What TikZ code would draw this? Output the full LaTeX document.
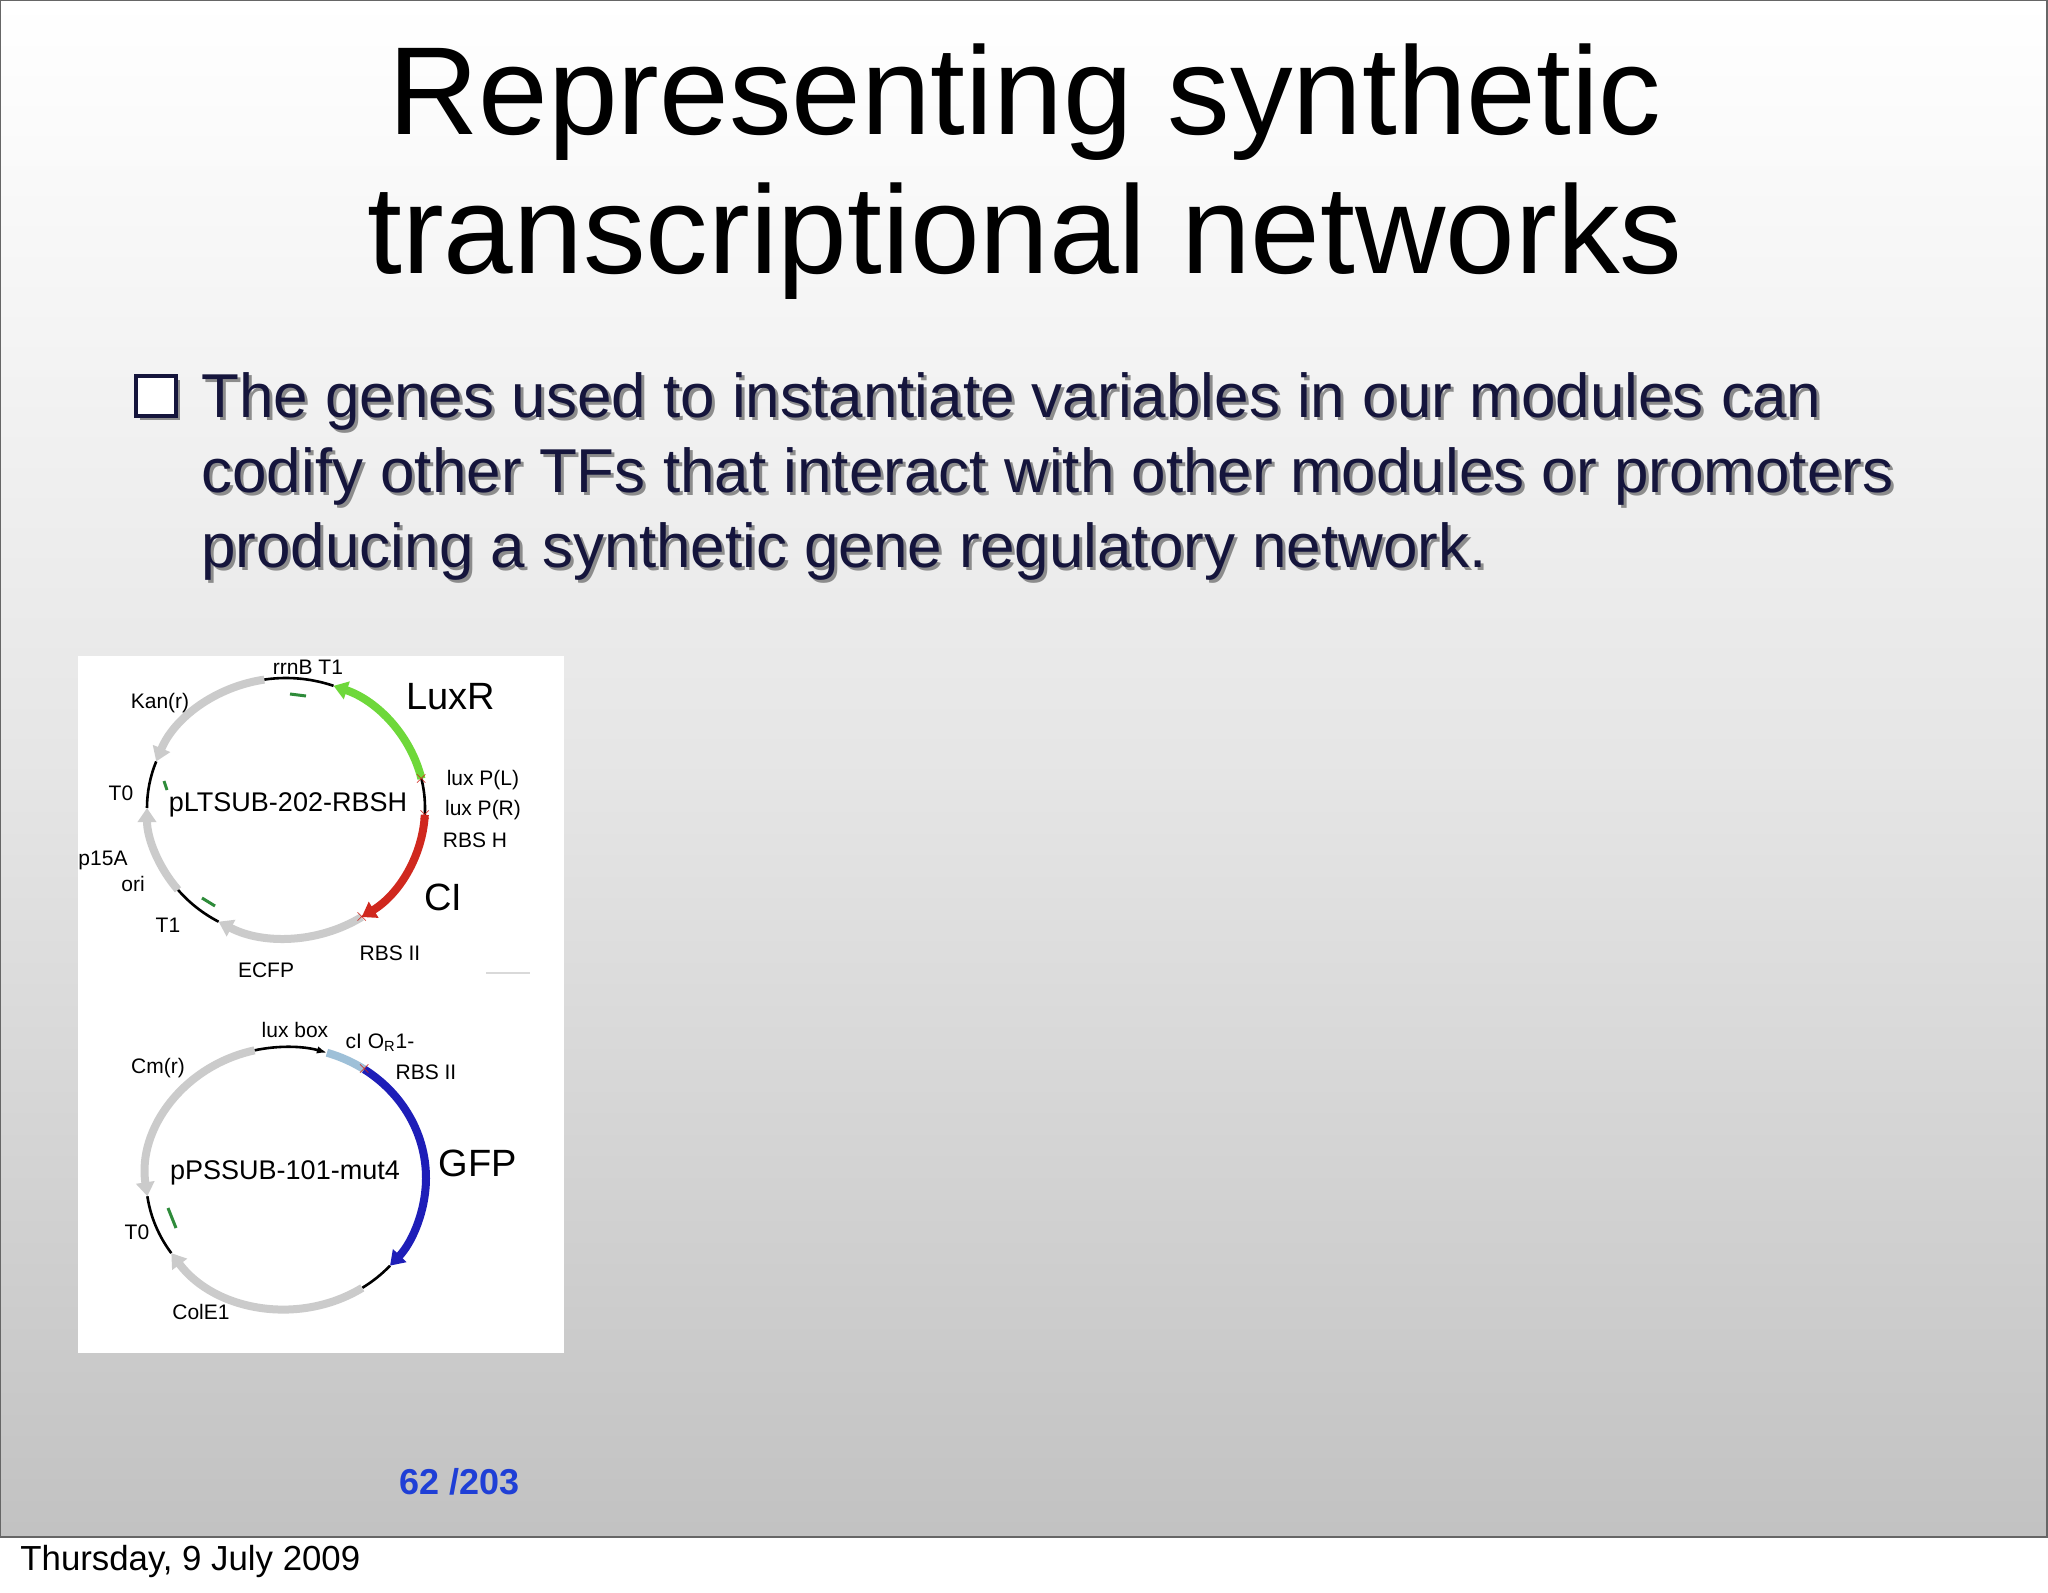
\documentclass[tikz,border=0pt]{standalone}
\usepackage{fontspec}
\setmainfont{Liberation Sans}
\usetikzlibrary{arrows.meta,calc}
\definecolor{navy}{HTML}{15153C}
\definecolor{pgray}{HTML}{CBCBCB}
\definecolor{pgreen}{HTML}{6ED83A}
\definecolor{pred}{HTML}{D0281E}
\definecolor{pblue}{HTML}{1E1EB8}
\definecolor{plblue}{HTML}{9EC0D8}
\definecolor{dgreen}{HTML}{2E8B3A}
\definecolor{pnum}{HTML}{1F3FD6}
\tikzset{
 seg/.style={line width=4pt},
 thin seg/.style={line width=1.3pt,black},
 tip/.style={-{Triangle[length=7pt,width=9pt]}},
 lbl/.style={font=\fontsize{10.5}{12}\selectfont,inner sep=0pt},
 big/.style={font=\fontsize{19}{22}\selectfont,inner sep=0pt},
 pname/.style={font=\fontsize{13.5}{16}\selectfont,inner sep=0pt},
 bul/.style={anchor=base west,inner sep=0pt,font=\fontsize{31}{37}\selectfont},
}
\newcommand{\parc}[6]{% center, rx, ry, a1, a2, style
 \draw[#6] ($(#1)+(#4:#2 and #3)$) arc[start angle=#4,end angle=#5,x radius=#2*0.5pt,y radius=#3*0.5pt];}
\begin{document}
\begin{tikzpicture}[x=0.5pt,y=0.5pt]
\useasboundingbox (0,0) rectangle (2048,-1593);
\fill[white] (0,0) rectangle (2048,-1593);
\shade[top color=white,bottom color=black!24,middle color=black!10] (0,0) rectangle (2047,-1537);
\draw[black!60,line width=1pt] (0,0) rectangle (2047,-1537);
% title
\node[font=\fontsize{62.6}{69.5}\selectfont,inner sep=0pt,anchor=base] (t1) at (1025,-135) {Representing synthetic};
\node[font=\fontsize{62.6}{69.5}\selectfont,inner sep=0pt,anchor=base] (t2) at (1025,-274) {transcriptional networks};
% bullet
\node[fill=black!45,minimum size=20pt,inner sep=0pt] (bxs) at (160,-400) {};
\node[draw=navy,line width=2.2pt,minimum size=20pt,inner sep=0pt,fill=white] (bx) at (156,-396) {};
\foreach \t/\yy [count=\i] in {{The genes used to instantiate variables in our modules can}/418,{codify other TFs that interact with other modules or promoters}/492,{producing a synthetic gene regulatory network.}/567}{
 \node[bul,text=black!45] (s\i) at (204,-\yy-3) {\t};
 \node[bul,text=navy] (l\i) at (201,-\yy) {\t};
}
% image box
\fill[white] (78,-656) rectangle (564,-1353);
% plasmid 1
\coordinate (c1) at (286,-808);
\parc{c1}{139}{130}{99}{70}{thin seg}
\parc{c1}{139}{130}{13}{70}{seg,pgreen,tip}
\parc{c1}{139}{130}{13}{-3}{thin seg}
\parc{c1}{139}{130}{-3}{-57}{seg,pred,tip}
\parc{c1}{139}{130}{-57}{-119}{seg,pgray,tip}
\parc{c1}{139}{130}{-119}{-141}{thin seg}
\parc{c1}{139}{130}{-141}{-180}{seg,pgray,tip}
\parc{c1}{139}{130}{180}{159}{thin seg}
\parc{c1}{139}{130}{99}{159}{seg,pgray,tip}
\foreach \a in {13,-3,-57}{\node[pred,font=\bfseries\small,inner sep=0pt] (x\a) at ($(c1)+(\a:139 and 130)$) {$\times$};}
\draw[dgreen,line width=1.5pt] (290,-694) -- (306,-696);
\draw[dgreen,line width=1.5pt] (164,-781) -- (167,-790);
\draw[dgreen,line width=1.5pt] (202,-898) -- (215,-906);
\node[lbl] (a1) at (308,-667) {rrnB T1};
\node[big] (a2) at (451,-697) {LuxR};
\node[lbl] (a3) at (160,-703) {Kan(r)};
\node[lbl] (a4) at (121,-793) {T0};
\node[pname] (a5) at (288,-805) {pLTSUB-202-RBSH};
\node[lbl] (a6) at (483,-780) {lux P(L)};
\node[lbl] (a7) at (483,-810) {lux P(R)};
\node[lbl] (a8) at (475,-840) {RBS H};
\node[lbl] (a9) at (103,-860) {p15A};
\node[lbl] (a10) at (133,-884) {ori};
\node[big] (a11) at (443,-897) {CI};
\node[lbl] (a12) at (168,-925) {T1};
\node[lbl] (a13) at (390,-953) {RBS II};
\node[lbl] (a14) at (266,-970) {ECFP};
\draw[black!15,line width=1pt] (486,-973) -- (530,-973);
% plasmid 2
\coordinate (c2) at (286,-1178);
\parc{c2}{140}{131}{103}{73}{thin seg,-{Latex[length=5pt]}}
\parc{c2}{140}{131}{73}{56}{seg,plblue}
\parc{c2}{140}{131}{56}{-42}{seg,pblue,tip}
\parc{c2}{140}{131}{-42}{-57}{thin seg}
\parc{c2}{140}{131}{-57}{-145}{seg,pgray,tip}
\parc{c2}{140}{131}{-145}{-172}{thin seg}
\parc{c2}{140}{131}{103}{188}{seg,pgray,tip}
\node[pred,font=\bfseries\small,inner sep=0pt] (y1) at ($(c2)+(56:140 and 131)$) {$\times$};
\draw[dgreen,line width=1.5pt] (168,-1208) -- (176,-1228);
\node[lbl] (b1) at (295,-1030) {lux box};
\node[lbl] (b2) at (380,-1043) {cI O$_{\mathrm R}$1-};
\node[lbl] (b3) at (426,-1072) {RBS II};
\node[lbl] (b4) at (158,-1068) {Cm(r)};
\node[big] (b5) at (478,-1163) {GFP};
\node[pname] (b6) at (285,-1173) {pPSSUB-101-mut4};
\node[lbl] (b7) at (137,-1232) {T0};
\node[lbl] (b8) at (201,-1312) {ColE1};
% footer
\node[font=\fontsize{18}{20}\selectfont\bfseries,text=pnum,inner sep=0pt] (pg) at (460,-1482) {62 /203};
\node[font=\fontsize{17.4}{20}\selectfont,anchor=west,inner sep=0pt] (dt) at (20,-1561) {Thursday, 9 July 2009};
\end{tikzpicture}
\end{document}
